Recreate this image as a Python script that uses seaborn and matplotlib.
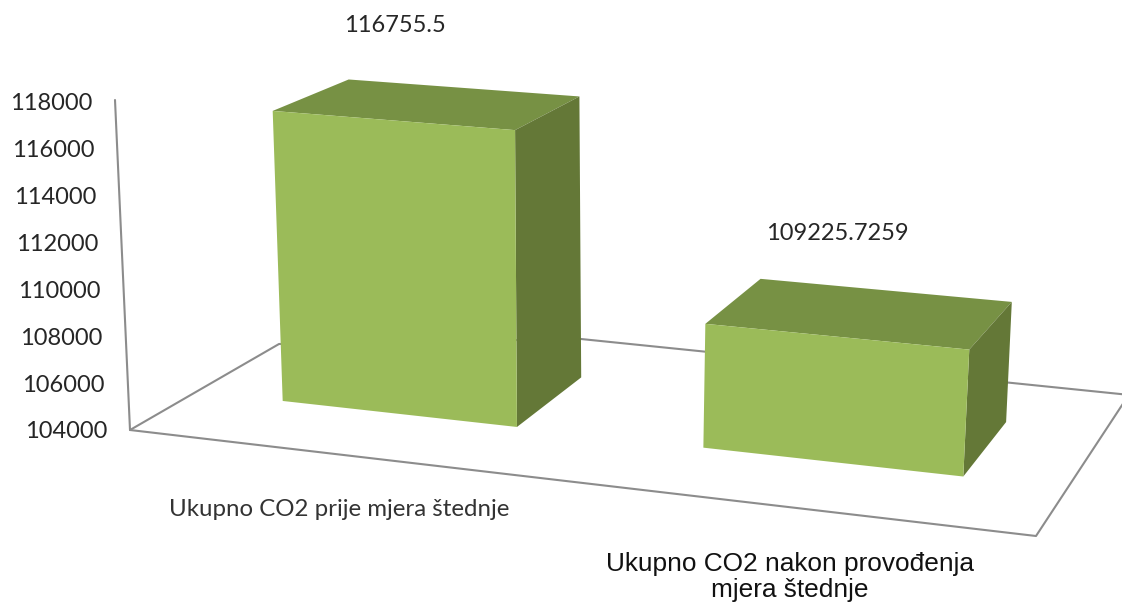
import numpy as np
import matplotlib
matplotlib.use('Agg')
import matplotlib.pyplot as plt
from matplotlib.patches import Polygon
from matplotlib.transforms import Transform
import seaborn as sns

categories = ['Ukupno CO2 prije mjera štednje', 'Ukupno CO2 nakon provođenja\nmjera štednje']
values = [116755.5, 109225.7259]
value_labels = ['116755.5', '109225.7259']
y_ticks = [104000, 106000, 108000, 110000, 112000, 114000, 116000, 118000]

BASE = 104000
W, H = 1122, 605
FRONT = '#9BBB59'
TOP = '#779144'
SIDE = '#647837'
LINE = '#8c8c8c'

sns.set_theme(style='white')
plt.rcParams['font.family'] = ['Lato', 'DejaVu Sans']


def project(u, v):
    # fake perspective: category position + value -> picture pixels
    X = 398 + 411 * u + 22.5 * u ** 2
    floor = 401 + 0.111 * (X - 283)
    h = (v - BASE) * 0.02274 * (1 + 0.0001 * (X - 283))
    return X + h * (X - 570) * 0.00012, floor - h


def depth(p):
    # how far a front corner goes back into the picture
    x, y = p
    dx = 76 - 0.048 * (x - 272)
    dy = -(25.5 + 0.0535 * y + 0.005 * (x - 272))
    return x + dx, y + dy


class Perspective(Transform):
    input_dims = 2
    output_dims = 2

    def transform_non_affine(self, values):
        px, py = project(values[:, 0], values[:, 1])
        return np.column_stack([px, py])


fig = plt.figure(figsize=(W / 100, H / 100), dpi=100)
ax = fig.add_axes([0, 0, 1, 1])
sns.barplot(x=categories, y=values, color=FRONT, saturation=1, width=0.57, ax=ax)
ax.set_xlim(0, W)
ax.set_ylim(H, 0)
ax.axis('off')

# walls and floor of the 3d box
ax.plot([115, 130, 1036, 1130], [100, 430, 536, 393], color=LINE, lw=1.5, zorder=1)
ax.plot([130, 279, 581, 1130], [430, 344, 339, 395], color=LINE, lw=1.5, zorder=1)

persp = Perspective() + ax.transData
for bar, val in zip(ax.patches, values):
    u0 = bar.get_x()
    u1 = u0 + bar.get_width()
    bar.set_y(BASE)
    bar.set_height(val - BASE)
    bar.set_transform(persp)
    bar.set_linewidth(0)
    bar.set_zorder(4)

    tl, tr = project(u0, val), project(u1, val)
    br = project(u1, BASE)
    ax.add_patch(Polygon([tl, tr, depth(tr), depth(tl)], color=TOP, lw=0, zorder=3))
    ax.add_patch(Polygon([tr, br, depth(br), depth(tr)], color=SIDE, lw=0, zorder=3))

for v in y_ticks:
    t = (v - BASE) / (y_ticks[-1] - BASE)
    ax.text(107 - 15 * t, 432 - 328 * t, str(v), ha='right', va='center',
            fontsize=17, color='#262626')

ax.text(395, 26, value_labels[0], ha='center', va='center', fontsize=17, color='#262626')
ax.text(837, 234, value_labels[1], ha='center', va='center', fontsize=17, color='#262626')

ax.text(339, 509, categories[0], ha='center', va='center', fontsize=17.3, color='#333333')
ax.text(790, 577, categories[1], ha='center', va='center', fontsize=18.9,
        family='Liberation Sans', color='#111111', linespacing=1.15)

fig.savefig('out.png', dpi=100)
